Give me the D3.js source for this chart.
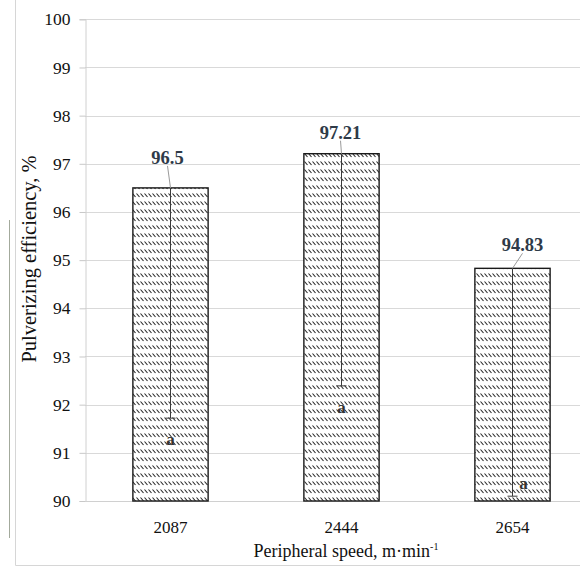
<!DOCTYPE html>
<html>
<head>
<meta charset="utf-8">
<script src="https://cdn.jsdelivr.net/npm/d3@7/dist/d3.min.js"></script>
<style>
  html, body { margin: 0; padding: 0; background: #fff; }
  svg { display: block; }
  svg text { font-family: "Liberation Serif", "DejaVu Serif", "Roboto", sans-serif; }
</style>
</head>
<body>
<svg id="chart" width="580" height="567"></svg>
<script>
// Peripheral speeds (x categories)
const speeds = ["2087", "2444", "2654"];
// Mean pulverizing efficiency, %
const efficiency = [96.5, 97.21, 94.83];
// Lower error bar length, %
const errorMinus = [4.78, 4.82, 4.73];
// Significance group letters
const groups = ["a", "a", "a"];
// Y axis ticks
const yTicks = [90, 91, 92, 93, 94, 95, 96, 97, 98, 99, 100];

// Value label nudges (pixels) for the manually placed labels
const labelNudgeX = [-3, -1, 10];
const labelNudgeY = [-24, -15, -17];

const svg = d3.select("#chart");
const W = 580, H = 567;

const plot = { left: 85, right: 598, top: 19.3, bottom: 501 };

const x = d3.scaleBand().domain(speeds).range([plot.left, plot.right]).paddingInner(0.56).paddingOuter(0.28);
const y = d3.scaleLinear().domain([90, 100]).range([plot.bottom, plot.top]);

// Hatch pattern for the bars: rows of short back-slashes
const defs = svg.append("defs");
const pat = defs.append("pattern")
  .attr("id", "hatch")
  .attr("patternUnits", "userSpaceOnUse")
  .attr("width", 4).attr("height", 8);
pat.append("rect").attr("width", 4).attr("height", 8).attr("fill", "#fff");
pat.append("path").attr("d", "M0.5,1.5 L3.5,5").attr("stroke", "#2a2a2a").attr("stroke-width", 1.1);

// Outer frame
svg.append("line").attr("x1", 15.5).attr("x2", 15.5).attr("y1", 0).attr("y2", 565.5)
  .attr("stroke", "#d6d6d6").attr("stroke-width", 1);
svg.append("line").attr("x1", 15.5).attr("x2", W).attr("y1", 565.5).attr("y2", 565.5)
  .attr("stroke", "#d6d6d6").attr("stroke-width", 1);
svg.append("line").attr("x1", 9.5).attr("x2", 9.5).attr("y1", 220).attr("y2", 538)
  .attr("stroke", "#a3aa9c").attr("stroke-width", 1);

// Gridlines
svg.append("g").selectAll("line").data(yTicks.filter(t => t > 90)).join("line")
  .attr("x1", plot.left).attr("x2", W)
  .attr("y1", d => Math.round(y(d)) + 0.5).attr("y2", d => Math.round(y(d)) + 0.5)
  .attr("stroke", "#d9d9d9").attr("stroke-width", 1);

// Y axis
const yAxis = d3.axisLeft(y).tickValues(yTicks).tickSize(6).tickPadding(9).tickFormat(d3.format("d"));
const gy = svg.append("g").attr("transform", `translate(${plot.left + 0.5},0)`).call(yAxis);
gy.attr("font-family", null);
gy.select(".domain").attr("stroke", "#d0d0d0");
gy.selectAll(".tick line").attr("stroke", "#c8c8c8");
gy.selectAll(".tick text").attr("font-size", 17.5).attr("fill", "#111");

// X axis
const xAxis = d3.axisBottom(x).tickSize(0).tickPadding(19);
const gx = svg.append("g").attr("transform", `translate(0,${Math.round(plot.bottom) + 0.5})`).call(xAxis);
gx.attr("font-family", null);
gx.select(".domain").attr("stroke", "#d0d0d0").attr("d", `M${plot.left},0H${W}`);
gx.selectAll(".tick text").attr("font-size", 17).attr("fill", "#111");

// Bars
svg.append("g").selectAll("rect").data(efficiency).join("rect")
  .attr("x", (d, i) => x(speeds[i]))
  .attr("y", d => y(d))
  .attr("width", x.bandwidth())
  .attr("height", d => y(90) - y(d))
  .attr("fill", "url(#hatch)")
  .attr("stroke", "#1a1a1a").attr("stroke-width", 1.4);

const cx = i => x(speeds[i]) + x.bandwidth() / 2;

// Error bars (minus direction)
const eb = svg.append("g");
efficiency.forEach((v, i) => {
  const lo = y(v - errorMinus[i]);
  eb.append("line").attr("x1", cx(i)).attr("x2", cx(i)).attr("y1", y(v)).attr("y2", lo)
    .attr("stroke", "#3a3a3a").attr("stroke-width", 1);
  eb.append("line").attr("x1", cx(i) - 5).attr("x2", cx(i) + 5).attr("y1", lo).attr("y2", lo)
    .attr("stroke", "#3a3a3a").attr("stroke-width", 1);
});

// Value labels with leader lines
efficiency.forEach((v, i) => {
  const lx = cx(i) + labelNudgeX[i];
  const ly = y(v) + labelNudgeY[i];
  svg.append("line").attr("x1", lx).attr("y1", ly + 2).attr("x2", cx(i)).attr("y2", y(v))
    .attr("stroke", "#9a9a9a").attr("stroke-width", 1);
  svg.append("text").attr("x", lx).attr("y", ly)
    .attr("text-anchor", "middle").attr("font-size", 18.5).attr("font-weight", "bold")
    .attr("fill", "#2e3a48").text(d3.format("")(v));
});

// Group letters below each error bar cap; kept inside the plot when near the axis
groups.forEach((g, i) => {
  const lo = y(efficiency[i] - errorMinus[i]);
  let gxp = cx(i), gyp = lo + 27;
  if (gyp > plot.bottom - 4) { gxp = cx(i) + 11; gyp = lo - 7; }
  svg.append("text").attr("x", gxp).attr("y", gyp)
    .attr("text-anchor", "middle").attr("font-size", 17).attr("font-weight", "bold")
    .attr("fill", "#333").text(g);
});

// Axis titles
svg.append("text")
  .attr("transform", `translate(36,259) rotate(-90)`)
  .attr("text-anchor", "middle").attr("font-size", 20.5).attr("fill", "#111")
  .text("Pulverizing efficiency, %");

const xt = svg.append("text")
  .attr("x", 346).attr("y", 557)
  .attr("text-anchor", "middle").attr("font-size", 18).attr("fill", "#111");
xt.append("tspan").text("Peripheral speed, m·min");
xt.append("tspan").attr("dy", -7).attr("font-size", 10).text("-1");
</script>
</body>
</html>
